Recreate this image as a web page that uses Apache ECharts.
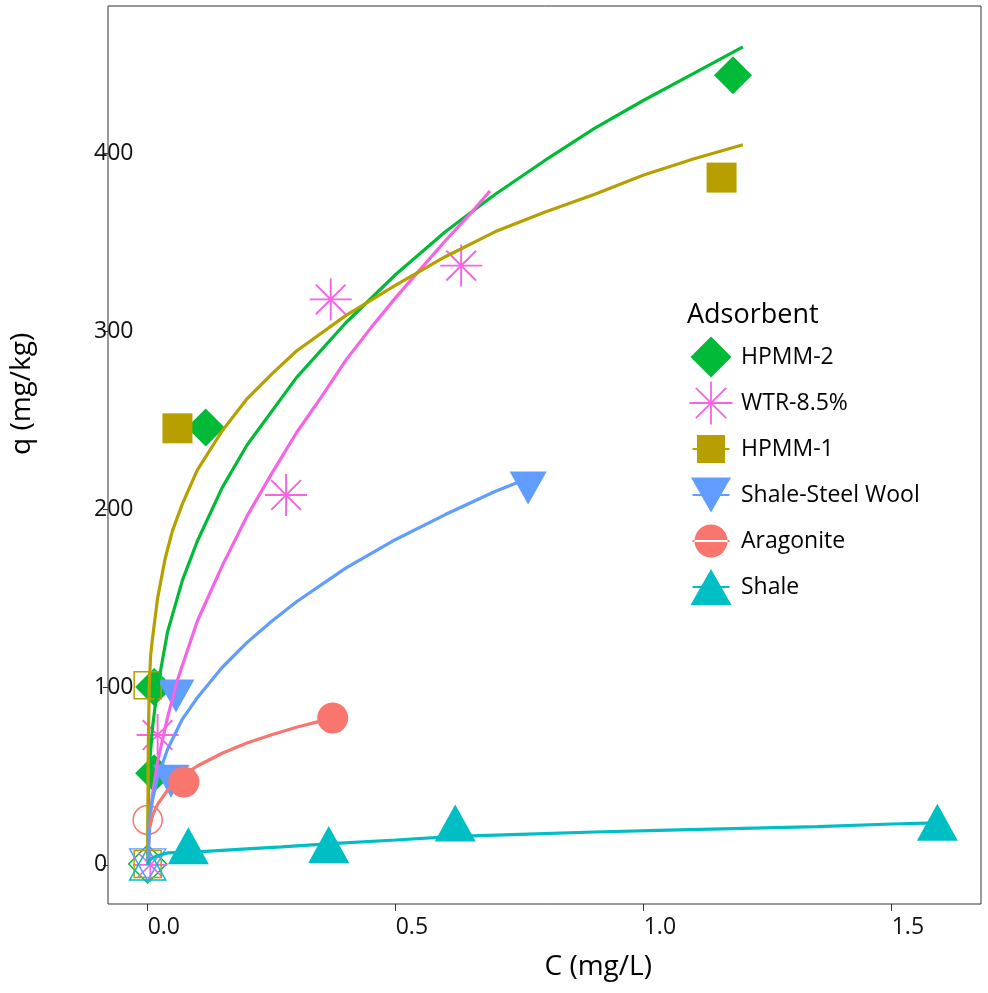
<!DOCTYPE html>
<html>
<head>
<meta charset="utf-8">
<script src="https://cdn.jsdelivr.net/npm/echarts@6/dist/echarts.min.js"></script>
<style>
  html, body { margin: 0; padding: 0; background: #fff; }
  #chart { width: 988px; height: 993px; }
</style>
</head>
<body>
<div id="chart"></div>
<script>
// legend order
const adsorbents = ['HPMM-2', 'WTR-8.5%', 'HPMM-1', 'Shale-Steel Wool', 'Aragonite', 'Shale'];

// measured points [C (mg/L), q (mg/kg)]
const hpmm2Pts = [[0.013, 51.5], [0.013, 100], [0.117, 246], [1.18, 444]];
const wtrPts = [[0.02, 73], [0.279, 208], [0.369, 318], [0.632, 337]];
const hpmm1Pts = [[0.06, 245.5], [1.157, 386.5]];
const steelPts = [[0.047, 47], [0.057, 95], [0.767, 212]];
const aragPts = [[0.073, 46.6], [0.373, 82.6]];
const shalePts = [[0.082, 10.7], [0.365, 11.5], [0.62, 23.5], [1.592, 24]];

// open (hollow) points near the origin
const hpmm2Open = [[0, 0.5]];
const wtrOpen = [[0.005, 0]];
const hpmm1Open = [[0, 101], [0, 0.5]];
const steelOpen = [[0, 0]];
const aragOpen = [[0, 25.3]];
const shaleOpen = [[0, 0.5]];

// fitted curves
const hpmm2Fit = [[0, 0], [0.002, 43], [0.005, 61], [0.01, 78], [0.02, 100], [0.04, 131], [0.07, 160],
  [0.1, 182], [0.15, 212], [0.2, 236], [0.3, 274], [0.4, 305], [0.5, 332], [0.6, 356], [0.7, 377],
  [0.8, 396], [0.9, 414], [1.0, 430], [1.1, 445], [1.2, 460]];
const wtrFit = [[0, 0], [0.005, 28], [0.01, 40], [0.02, 58], [0.04, 83], [0.06, 104], [0.1, 137],
  [0.15, 168], [0.2, 196], [0.25, 220], [0.3, 243], [0.35, 263], [0.4, 284], [0.45, 302], [0.5, 319],
  [0.55, 335], [0.6, 351], [0.65, 366], [0.69, 379]];
const hpmm1Fit = [[0, 0], [0.001, 60], [0.003, 100], [0.006, 118], [0.01, 128], [0.02, 150], [0.035, 172],
  [0.05, 188], [0.07, 203], [0.1, 222], [0.15, 244], [0.2, 262], [0.25, 276], [0.3, 289], [0.4, 309],
  [0.5, 326], [0.6, 342], [0.7, 356], [0.8, 367], [0.9, 377], [1.0, 388], [1.1, 397], [1.2, 405]];
const steelFit = [[0, 0], [0.005, 28], [0.01, 37], [0.02, 49], [0.04, 65], [0.07, 82], [0.1, 94],
  [0.15, 111], [0.2, 125], [0.25, 137], [0.3, 148], [0.4, 167], [0.5, 183], [0.6, 197], [0.7, 210], [0.79, 220]];
const aragFit = [[0.004, 21], [0.01, 28], [0.02, 34], [0.04, 42], [0.07, 50], [0.1, 55.6], [0.15, 62.8],
  [0.2, 68.5], [0.25, 73.2], [0.3, 77.4], [0.37, 82.4]];
const shaleFit = [[0, 0], [0.003, 2.5], [0.01, 4], [0.02, 5.2], [0.04, 6.7], [0.07, 7], [0.1, 7.3],
  [0.15, 8.2], [0.2, 9], [0.27, 10.1], [0.37, 12], [0.5, 14], [0.62, 16], [0.75, 17.2], [0.9, 18.5],
  [1.05, 19.5], [1.2, 20.5], [1.35, 21.5], [1.5, 23], [1.59, 23.6]];

const xTicks = [0, 0.5, 1.0, 1.5];
const yTicks = [0, 100, 200, 300, 400];

const font = 'Open Sans';
const colors = {
  'HPMM-2': '#00BA38', 'WTR-8.5%': '#F564E3', 'HPMM-1': '#B79F00',
  'Shale-Steel Wool': '#619CFF', 'Aragonite': '#F8766D', 'Shale': '#00BFC4'
};

const star = 'path://M0,9.55L20,9.55L20,10.45L0,10.45Z M9.55,0L10.45,0L10.45,20L9.55,20Z ' +
  'M3.25,2.61L17.39,16.75L16.75,17.39L2.61,3.25Z M16.75,2.61L17.39,3.25L3.25,17.39L2.61,16.75Z';
const downTri = 'path://M0,0L20,0L10,18Z';

// legend keys drawn in a 44x44 frame (tiny corner specks fix the frame)
const frame = 'M0,0L0.01,0L0,0.01Z M44,44L43.99,44L44,43.99Z ';
const stub = 'M3.5,21L40.5,21L40.5,23L3.5,23Z ';
const legendIcons = {
  'HPMM-2': 'path://' + frame + 'M22,1.5L42.5,22L22,42.5L1.5,22Z',
  'WTR-8.5%': 'path://' + frame + 'M0.5,21.1L43.5,21.1L43.5,22.9L0.5,22.9Z M21.1,0.5L22.9,0.5L22.9,43.5L21.1,43.5Z ' +
    'M7.44,6.16L37.84,36.56L36.56,37.84L6.16,7.44Z M36.56,6.16L37.84,7.44L7.44,37.84L6.16,36.56Z',
  'HPMM-1': 'path://' + frame + stub + 'M8,8L36,8L36,36L8,36Z',
  'Shale-Steel Wool': 'path://' + frame + stub + 'M2,4.5L42,4.5L22,39.5Z',
  'Aragonite': 'path://' + frame + stub + 'M5.5,22A16.5,16.5 0 1,0 38.5,22A16.5,16.5 0 1,0 5.5,22Z',
  'Shale': 'path://' + frame + stub + 'M22,4L42.5,40L1.5,40Z'
};

const pointSets = {
  'HPMM-2': { pts: hpmm2Pts, open: hpmm2Open, fit: hpmm2Fit, symbol: 'diamond', size: [38, 38], openSize: [38, 38] },
  'WTR-8.5%': { pts: wtrPts, open: wtrOpen, fit: wtrFit, symbol: star, size: [42, 42], openSize: [34, 34] },
  'HPMM-1': { pts: hpmm1Pts, open: hpmm1Open, fit: hpmm1Fit, symbol: 'rect', size: [30, 30], openSize: [27, 27] },
  'Shale-Steel Wool': { pts: steelPts, open: steelOpen, fit: steelFit, symbol: downTri, size: [37, 33], openSize: [36, 32] },
  'Aragonite': { pts: aragPts, open: aragOpen, fit: aragFit, symbol: 'circle', size: [31, 31], openSize: [29, 29] },
  'Shale': { pts: shalePts, open: shaleOpen, fit: shaleFit, symbol: 'triangle', size: [41, 37], openSize: [36, 32] }
};

const scatterSeries = adsorbents.map(function (name) {
  const s = pointSets[name];
  const c = colors[name];
  const isStar = name === 'WTR-8.5%';
  const openData = s.open.map(function (v) {
    return {
      value: v,
      symbolSize: s.openSize,
      itemStyle: isStar ? { color: c } : { color: 'rgba(0,0,0,0)', borderColor: c, borderWidth: 1.5 }
    };
  });
  return {
    name: name,
    type: 'scatter',
    symbol: s.symbol,
    symbolSize: s.size,
    itemStyle: { color: c, opacity: 1 },
    data: openData.concat(s.pts),
    z: 2,
    silent: true
  };
});

const lineSeries = adsorbents.map(function (name) {
  return {
    name: name,
    type: 'line',
    data: pointSets[name].fit,
    showSymbol: false,
    symbol: 'none',
    lineStyle: { color: colors[name], width: 3.2 },
    itemStyle: { color: colors[name] },
    z: 3,
    silent: true
  };
});

const chart = echarts.init(document.getElementById('chart'));
chart.setOption({
  animation: false,
  backgroundColor: '#fff',
  textStyle: { fontFamily: font },
  title: {
    text: 'Adsorbent',
    left: 687,
    top: 302,
    padding: 0,
    textStyle: { fontFamily: font, fontSize: 27, fontWeight: 'normal', color: '#000' }
  },
  legend: {
    orient: 'vertical',
    left: 689,
    top: 335,
    padding: 0,
    itemWidth: 44,
    itemHeight: 44,
    itemGap: 2,
    selectedMode: false,
    textStyle: { fontFamily: font, fontSize: 23, color: '#000', padding: [0, 0, 0, 3] },
    data: adsorbents.map(function (n) { return { name: n, icon: legendIcons[n] }; })
  },
  grid: {
    left: 107, right: 7, top: 6, bottom: 89,
    show: true, borderColor: '#333', borderWidth: 1, backgroundColor: '#fff'
  },
  xAxis: {
    type: 'value',
    min: -0.08,
    max: 1.68,
    name: 'C (mg/L)',
    nameLocation: 'middle',
    nameGap: 49,
    nameTextStyle: { fontFamily: font, fontSize: 28, color: '#000', align: 'left' },
    axisLine: { show: false, onZero: false },
    axisTick: { show: true, length: 7, lineStyle: { color: '#333' }, customValues: xTicks },
    axisLabel: {
      customValues: xTicks,
      margin: 12,
      align: 'left',
      fontFamily: font, fontSize: 23, color: '#111',
      formatter: function (v) { return v.toFixed(1); }
    },
    splitLine: { show: false }
  },
  yAxis: {
    type: 'value',
    min: -22,
    max: 483,
    name: 'q (mg/kg)',
    nameLocation: 'middle',
    nameRotate: 90,
    nameGap: 72,
    nameTextStyle: { fontFamily: font, fontSize: 28, color: '#000', align: 'left' },
    axisLine: { show: false, onZero: false },
    axisTick: { show: true, length: 5, lineStyle: { color: '#333' }, customValues: yTicks },
    axisLabel: {
      customValues: yTicks,
      margin: 14,
      align: 'left',
      fontFamily: font, fontSize: 23, color: '#111'
    },
    splitLine: { show: false }
  },
  series: scatterSeries.concat(lineSeries)
});
</script>
</body>
</html>
